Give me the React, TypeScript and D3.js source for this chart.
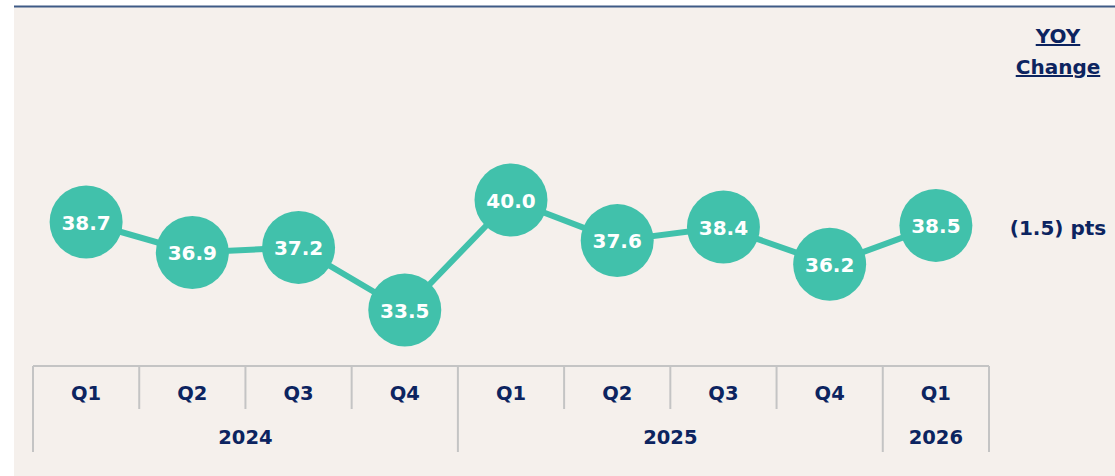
import React from "react";
import * as d3 from "d3";

const quarters = ["Q1", "Q2", "Q3", "Q4", "Q1", "Q2", "Q3", "Q4", "Q1"];
const years = ["2024", "2024", "2024", "2024", "2025", "2025", "2025", "2025", "2026"];
const values = [38.7, 36.9, 37.2, 33.5, 40.0, 37.6, 38.4, 36.2, 38.5];
const yoyLabel = "(1.5) pts";

const W = 1115, H = 476;
const NAVY = "#0C2460";
const TEAL = "#41C1AB";
const GRID = "#C4C4C4";
const FONT = "'DejaVu Sans', sans-serif";

export default function App() {
  const idx = values.map((_, i) => String(i));
  const x = d3.scaleBand().domain(idx).range([33, 989]).padding(0);
  const y = d3.scaleLinear().domain([33.5, 40]).range([310, 200]);
  const line = d3.line<number>().x((_, i) => (x(String(i)) as number) + x.bandwidth() / 2).y((d) => y(d));

  const groups: { year: string; start: number; end: number }[] = [];
  years.forEach((yr, i) => {
    const last = groups[groups.length - 1];
    if (last && last.year === yr) last.end = i;
    else groups.push({ year: yr, start: i, end: i });
  });

  const axisTop = 366, qBottom = 409, yBottom = 452;

  return (
    <svg width={W} height={H} style={{ position: "absolute", left: 0, top: 0, display: "block" }}>
      <rect x={0} y={0} width={W} height={H} fill="#ffffff" />
      <rect x={14} y={7} width={W - 14} height={H - 7} fill="#F5F0EC" />
      <line x1={14} x2={W} y1={6.5} y2={6.5} stroke="#3E5A86" strokeWidth={2} />

      <line x1={33} x2={989} y1={axisTop} y2={axisTop} stroke={GRID} strokeWidth={2} />
      {values.map((_, i) => {
        const x0 = x(String(i)) as number;
        const isYearStart = i === 0 || years[i] !== years[i - 1];
        return (
          <line key={"d" + i} x1={x0} x2={x0} y1={axisTop} y2={isYearStart ? yBottom : qBottom} stroke={GRID} strokeWidth={2} />
        );
      })}
      <line x1={989} x2={989} y1={axisTop} y2={yBottom} stroke={GRID} strokeWidth={2} />
      {quarters.map((q, i) => (
        <text key={"q" + i} x={(x(String(i)) as number) + x.bandwidth() / 2} y={400} textAnchor="middle"
          fontFamily={FONT} fontWeight={700} fontSize={19.5} fill={NAVY}>{q}</text>
      ))}
      {groups.map((g) => {
        const x0 = x(String(g.start)) as number;
        const x1 = (x(String(g.end)) as number) + x.bandwidth();
        return (
          <text key={g.year} x={(x0 + x1) / 2} y={444} textAnchor="middle"
            fontFamily={FONT} fontWeight={700} fontSize={19.5} fill={NAVY}>{g.year}</text>
        );
      })}

      <path d={line(values) || ""} fill="none" stroke={TEAL} strokeWidth={6} />
      {values.map((v, i) => {
        const cx = (x(String(i)) as number) + x.bandwidth() / 2;
        return (
          <g key={"c" + i}>
            <circle cx={cx} cy={y(v)} r={36.5} fill={TEAL} />
            <text x={cx} y={y(v) + 7.5} textAnchor="middle" fontFamily={FONT} fontWeight={700} fontSize={20} fill="#ffffff">
              {v.toFixed(1)}
            </text>
          </g>
        );
      })}

      <text x={1058} y={43} textAnchor="middle" fontFamily={FONT} fontWeight={700} fontSize={20} fill={NAVY} textDecoration="underline">YOY</text>
      <text x={1058} y={74} textAnchor="middle" fontFamily={FONT} fontWeight={700} fontSize={20} fill={NAVY} textDecoration="underline">Change</text>
      <text x={1058} y={235} textAnchor="middle" fontFamily={FONT} fontWeight={700} fontSize={20} fill={NAVY}>{yoyLabel}</text>
    </svg>
  );
}
